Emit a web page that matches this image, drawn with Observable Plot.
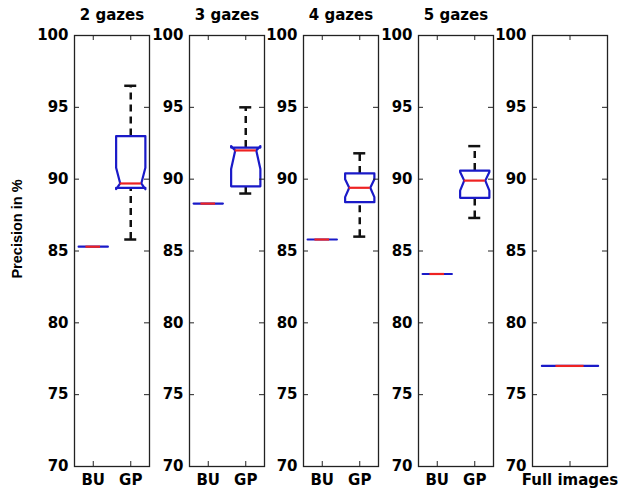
<!DOCTYPE html>
<html><head><meta charset="utf-8">
<script src="https://cdn.jsdelivr.net/npm/d3@7"></script>
<script src="https://cdn.jsdelivr.net/npm/@observablehq/plot@0.6"></script>
<style>
html,body{margin:0;padding:0;background:#fff;}
#chart{position:relative;width:618px;height:491px;overflow:hidden;background:#fff;}
#chart svg{position:absolute;top:0;}
</style></head><body><div id="chart"></div>
<script>
// ---- data ----
const panelTitles = ["2 gazes", "3 gazes", "4 gazes", "5 gazes"];
const methods = ["BU", "GP"];
const buPrecision = [85.3, 88.3, 85.8, 83.4];
const gpLowerWhisker = [85.8, 89.0, 86.0, 87.3];
const gpQ1 = [89.4, 89.5, 88.4, 88.7];
const gpNotchLow = [89.3, 90.7, 88.75, 89.2];
const gpMedian = [89.7, 92.0, 89.4, 89.9];
const gpNotchHigh = [90.8, 92.3, 90.0, 90.5];
const gpQ3 = [93.0, 92.2, 90.4, 90.6];
const gpUpperWhisker = [96.5, 95.0, 91.8, 92.3];
const fullLabel = "Full images";
const fullPrecision = 77.0;
const yTicks = [70, 75, 80, 85, 90, 95, 100];
const yLabel = "Precision in %";

// ---- layout / style ----
const H = 491, mTop = 35, mBottom = 25, frameW = 75, pad = 50, padR = 15;
const frameH = H - mTop - mBottom;
const panelLefts = [74, 188.5, 303, 417.5, 532];
const BLUE = "#1a1ac8", RED = "#ee2222", BLACK = "#111";
const FONT = "'DejaVu Sans', sans-serif";

function outlinePoints(b, hw, id) {
  const nw = hw * (b.q3 > b.q1 ? 0.72 : 0.5);
  const pts = [
    [b.x - hw, b.q1], [b.x - hw, b.nlo], [b.x - nw, b.med], [b.x - hw, b.nhi], [b.x - hw, b.q3],
    [b.x + hw, b.q3], [b.x + hw, b.nhi], [b.x + nw, b.med], [b.x + hw, b.nlo], [b.x + hw, b.q1],
    [b.x - hw, b.q1]
  ];
  return pts.map(([x, y]) => ({id, x, y}));
}

function makePanel({left, title, boxes, domain, ticks, tickLabels, hw, withYLabel}) {
  const capHW = 0.16;
  const medHalf = b => hw * (b.q3 > b.q1 ? 0.72 : 0.5);
  const outline = boxes.flatMap((b, i) => outlinePoints(b, hw, i));
  const withUpper = boxes.filter(b => b.hi > b.q3);
  const withLower = boxes.filter(b => b.lo < b.q1);
  const marks = [
    Plot.ruleX(withUpper, {x: "x", y1: "q3", y2: "hi", stroke: BLACK, strokeWidth: 2.5, strokeDasharray: "7,5"}),
    Plot.ruleX(withLower, {x: "x", y1: "lo", y2: "q1", stroke: BLACK, strokeWidth: 2.5, strokeDasharray: "7,5"}),
    Plot.ruleY(withUpper, {y: "hi", x1: b => b.x - capHW, x2: b => b.x + capHW, stroke: BLACK, strokeWidth: 2.5}),
    Plot.ruleY(withLower, {y: "lo", x1: b => b.x - capHW, x2: b => b.x + capHW, stroke: BLACK, strokeWidth: 2.5}),
    Plot.line(outline, {x: "x", y: "y", z: "id", stroke: BLUE, strokeWidth: 2.2, curve: "linear"}),
    Plot.ruleY(boxes, {y: "med", x1: b => b.x - medHalf(b), x2: b => b.x + medHalf(b), stroke: RED, strokeWidth: 2.2}),
    // inward ticks
    Plot.ruleY(yTicks, {y: d => d, insetRight: frameW - 5, stroke: "#222", strokeWidth: 1}),
    Plot.ruleY(yTicks, {y: d => d, insetLeft: frameW - 5, stroke: "#222", strokeWidth: 1}),
    Plot.ruleX(ticks, {x: d => d, insetTop: frameH - 5, stroke: "#222", strokeWidth: 1}),
    Plot.ruleX(ticks, {x: d => d, insetBottom: frameH - 5, stroke: "#222", strokeWidth: 1}),
    Plot.frame({stroke: "#222", strokeWidth: 1.3}),
    Plot.axisY({ticks: yTicks, tickSize: 0, tickPadding: 6, label: null, fontSize: 15, fontWeight: "bold"}),
    Plot.axisX({ticks, tickFormat: d => tickLabels[ticks.indexOf(d)], tickSize: 0, tickPadding: 8, label: null, fontSize: 15, fontWeight: "bold"})
  ];
  if (title) marks.push(Plot.text([title], {text: d => d, frameAnchor: "top", dy: -20, lineAnchor: "middle", fontSize: 15, fontWeight: "bold"}));
  if (withYLabel) marks.push(Plot.text([yLabel], {text: d => d, frameAnchor: "left", textAnchor: "middle", lineAnchor: "middle", dx: -57, dy: -22, rotate: -90, fontSize: 14.5, fontWeight: "bold", fontFamily: "'Liberation Sans', Arial, sans-serif"}));
  const svg = Plot.plot({
    width: pad + frameW + padR,
    height: H,
    marginLeft: pad, marginRight: padR, marginTop: mTop, marginBottom: mBottom,
    x: {domain, axis: null},
    y: {domain: [70, 100], axis: null},
    style: {fontFamily: FONT, fontSize: "15px", fontWeight: "bold", color: "#000", background: "transparent", overflow: "visible"},
    marks
  });
  svg.style.left = (left - pad) + "px";
  document.getElementById("chart").appendChild(svg);
}

panelTitles.forEach((title, i) => {
  const bu = buPrecision[i];
  const boxes = [
    {x: 1, lo: bu, q1: bu, nlo: bu, med: bu, nhi: bu, q3: bu, hi: bu},
    {x: 2, lo: gpLowerWhisker[i], q1: gpQ1[i], nlo: gpNotchLow[i], med: gpMedian[i], nhi: gpNotchHigh[i], q3: gpQ3[i], hi: gpUpperWhisker[i]}
  ];
  makePanel({left: panelLefts[i], title, boxes, domain: [0.5, 2.5], ticks: [1, 2], tickLabels: methods, hw: 0.39, withYLabel: i === 0});
});

makePanel({
  left: panelLefts[4], title: null,
  boxes: [{x: 1, lo: fullPrecision, q1: fullPrecision, nlo: fullPrecision, med: fullPrecision, nhi: fullPrecision, q3: fullPrecision, hi: fullPrecision}],
  domain: [0.5, 1.5], ticks: [1], tickLabels: [fullLabel], hw: 0.375, withYLabel: false
});
</script></body></html>
